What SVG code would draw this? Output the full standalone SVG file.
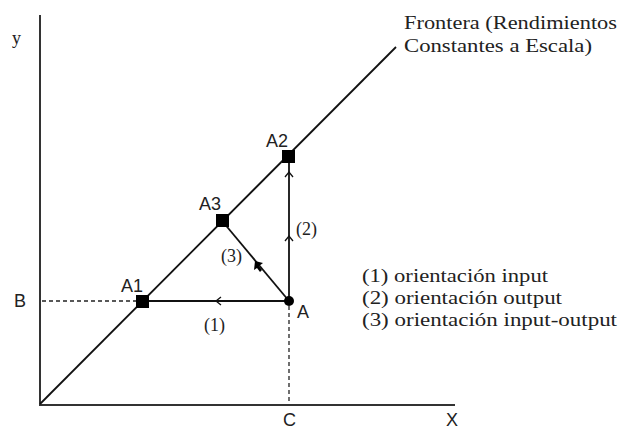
<svg xmlns="http://www.w3.org/2000/svg" width="619" height="432" viewBox="0 0 619 432">
<style>
.ax{stroke:#333;stroke-width:2;fill:none}
.ln{stroke:#111;stroke-width:1.8;fill:none}
.dash{stroke:#222;stroke-width:1.3;stroke-dasharray:4 3;fill:none}
.chev{stroke:#111;stroke-width:1.3;fill:none}
.sans{font-family:"Liberation Sans",Arial,sans-serif;font-size:18px;fill:#222}
.serif{font-family:"Liberation Serif","Times New Roman",serif;font-size:18px;fill:#222}
.pt{fill:#000}
</style>
<rect width="619" height="432" fill="#fff"/>
<g id="axes">
<line class="ax" x1="40" y1="15" x2="40" y2="405"/>
<line class="ax" x1="39" y1="405" x2="455" y2="405"/>
<text class="serif" x="12" y="44" font-size="20">y</text>
<text class="sans" x="446" y="426" font-size="17">X</text>
<text class="sans" x="14" y="307">B</text>
<text class="sans" x="283" y="426" font-size="17">C</text>
</g>
<g id="connectors">
<line class="ln" x1="40" y1="404" x2="396" y2="47"/>
<line class="dash" x1="42" y1="301" x2="137" y2="301"/>
<line class="dash" x1="289" y1="306" x2="289" y2="404"/>
<line class="ln" x1="142" y1="301" x2="289" y2="301"/>
<line class="ln" x1="289" y1="301" x2="289" y2="156"/>
<line class="ln" x1="289" y1="301" x2="223" y2="222"/>
<polyline class="chev" points="221,297 216,301 221,305"/>
<polyline class="chev" points="285,177 289,172 293,177"/>
<polyline class="chev" points="285,241 289,236 293,241"/>
<polygon class="pt" points="255,261 263,263 259,266 262,270 260,272 257,268 254,270"/>
</g>
<g id="A1"><rect class="pt" x="136" y="295" width="13" height="13"/><text class="sans" x="121" y="292">A1</text></g>
<g id="A3"><rect class="pt" x="216" y="214" width="13" height="13"/><text class="sans" x="199" y="210">A3</text></g>
<g id="A2"><rect class="pt" x="282" y="150" width="13" height="13"/><text class="sans" x="266" y="147">A2</text></g>
<g id="A"><circle class="pt" cx="289" cy="301" r="5"/><text class="sans" x="297" y="318">A</text></g>
<g id="labels">
<text class="serif" x="204" y="331" font-size="17">(1)</text>
<text class="serif" x="296" y="235" font-size="17">(2)</text>
<text class="serif" x="221" y="262" font-size="17">(3)</text>
<text class="serif" x="404" y="29" textLength="213" lengthAdjust="spacingAndGlyphs">Frontera (Rendimientos</text>
<text class="serif" x="404" y="52" textLength="188" lengthAdjust="spacingAndGlyphs">Constantes a Escala)</text>
<text class="serif" x="362" y="282" textLength="186" lengthAdjust="spacingAndGlyphs">(1) orientación input</text>
<text class="serif" x="362" y="304" textLength="200" lengthAdjust="spacingAndGlyphs">(2) orientación output</text>
<text class="serif" x="362" y="326" textLength="255" lengthAdjust="spacingAndGlyphs">(3) orientación input-output</text>
</g>
</svg>
